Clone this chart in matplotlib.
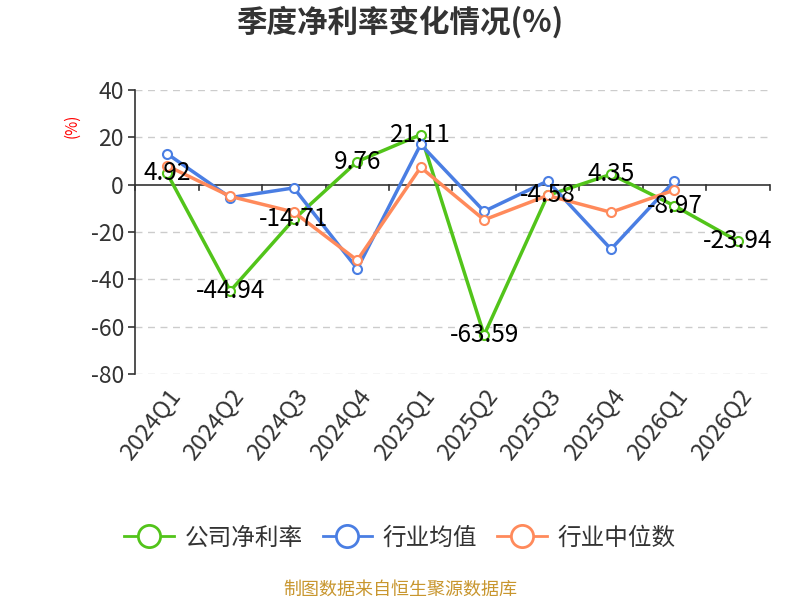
import matplotlib
matplotlib.use("Agg")
import matplotlib.pyplot as plt
from matplotlib.lines import Line2D
import numpy as np

plt.rcParams['font.family'] = ['Noto Sans CJK SC', 'DejaVu Sans']
plt.rcParams['axes.unicode_minus'] = False

quarters = ["2024Q1", "2024Q2", "2024Q3", "2024Q4", "2025Q1",
            "2025Q2", "2025Q3", "2025Q4", "2026Q1", "2026Q2"]
company = [4.92, -44.94, -14.71, 9.76, 21.11, -63.59, -4.58, 4.35, -8.97, -23.94]
ind_mean = [13.1, -5.5, -1.4, -35.6, 17.0, -11.3, 1.5, -27.3, 1.5]
ind_median = [8.0, -5.0, -11.6, -32.0, 7.3, -14.9, -4.6, -11.7, -2.3]
names = ["公司净利率", "行业均值", "行业中位数"]

GREEN = "#52c41a"
BLUE = "#4a7ee3"
ORANGE = "#ff8a5b"

fig = plt.figure(figsize=(8, 6), dpi=100)
ax = fig.add_axes([0.169, 0.377, 0.793, 0.473])

x = np.arange(len(quarters))
ax.set_xlim(-0.5, len(quarters) - 0.5)
ax.set_ylim(-80, 40)

# grid
for v in range(-80, 41, 20):
    if v != 0:
        ax.axhline(v, color="#cccccc", lw=1, ls=(0, (5, 4)), zorder=0)
ax.axhline(0, color="#333333", lw=1.2, zorder=1)
# category boundary ticks on zero line
for b in np.arange(-0.5, len(quarters), 1.0):
    ax.plot([b, b], [0, -2.2], color="#333333", lw=1.2, zorder=1, clip_on=False)

mk = dict(marker="o", markersize=6.5, markerfacecolor="white", markeredgewidth=1.5)
ax.plot(x, company, color=GREEN, lw=2.5, zorder=3, **mk)
ax.plot(x[:len(ind_mean)], ind_mean, color=BLUE, lw=2.5, zorder=4, **mk)
ax.plot(x[:len(ind_median)], ind_median, color=ORANGE, lw=2.5, zorder=5, **mk)

for xi, v in zip(x, company):
    ax.text(xi, v, f"{v:.2f}", ha="center", va="center", fontsize=17.5,
            color="black", zorder=6)

for s in ["top", "right", "bottom"]:
    ax.spines[s].set_visible(False)
ax.spines["left"].set_color("#333333")
ax.spines["left"].set_linewidth(1.2)

ax.set_yticks(range(-80, 41, 20))
ax.tick_params(axis="y", colors="#333333", labelsize=16.5, length=5, width=1.2, pad=3)
ax.set_xticks(x)
ax.set_xticklabels(quarters, rotation=52, ha="right", rotation_mode="anchor",
                   fontsize=17, color="#333333")
ax.tick_params(axis="x", length=0, pad=8)

fig.text(0.09, 0.79, "(%)", color="red", fontsize=11, rotation=90,
         ha="center", va="center")

fig.text(0.5, 0.962, "季度净利率变化情况(%)", ha="center", va="center",
         fontsize=22, fontweight="bold", color="#333333")

handles = [Line2D([], [], color=c, lw=2, marker="o", markersize=16,
                  markerfacecolor="white", markeredgewidth=2)
           for c in (GREEN, BLUE, ORANGE)]
leg = fig.legend(handles, names, loc="center", bbox_to_anchor=(0.5, 0.103), ncol=3,
                 frameon=False, fontsize=17, handlelength=2.1, columnspacing=0.85,
                 handletextpad=0.45)
for t in leg.get_texts():
    t.set_color("#333333")

fig.text(0.5, 0.017, "制图数据来自恒生聚源数据库", ha="center", va="center",
         fontsize=13, color="#c8962e")

fig.savefig("out.png", dpi=100)
